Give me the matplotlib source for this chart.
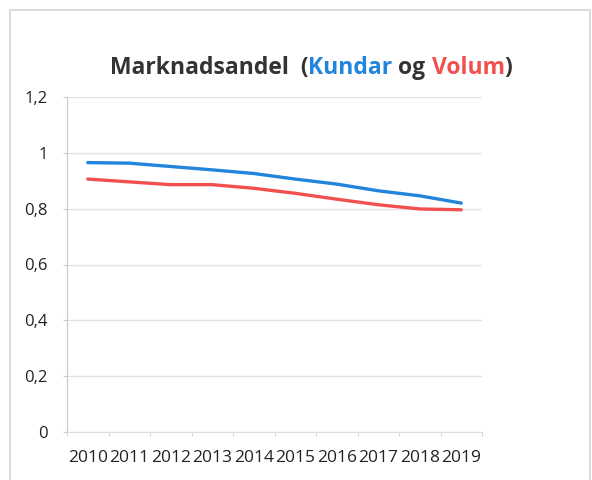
import numpy as np
import matplotlib
matplotlib.use("Agg")
import matplotlib.pyplot as plt
from matplotlib.patches import Rectangle

years = ["2010", "2011", "2012", "2013", "2014", "2015", "2016", "2017", "2018", "2019"]
kundar = [0.965, 0.963, 0.951, 0.939, 0.926, 0.906, 0.888, 0.864, 0.846, 0.820]
volum = [0.906, 0.896, 0.886, 0.886, 0.873, 0.855, 0.834, 0.814, 0.799, 0.796]
yticks = [0, 0.2, 0.4, 0.6, 0.8, 1.0, 1.2]
ytick_labels = ["0", "0,2", "0,4", "0,6", "0,8", "1", "1,2"]

blue = "#2185DB"
red = "#F2504F"

plt.rcParams['font.family'] = ['Open Sans', 'DejaVu Sans']

fig = plt.figure(figsize=(5.92, 4.80), dpi=100)
fig.patches.append(Rectangle((10/592, -0.02), 580/592, 1 - 10/480 + 0.02, transform=fig.transFigure,
                             fill=False, edgecolor="#d4d4d4", linewidth=1.2))

ax = fig.add_axes([67/592, 48/480, 415/592, 335/480])
x = np.arange(len(years))
ax.plot(x, kundar, color=blue, linewidth=2.4, solid_capstyle='round', solid_joinstyle='round')
ax.plot(x, volum, color=red, linewidth=2.4, solid_capstyle='round', solid_joinstyle='round')

ax.set_xlim(-0.5, 9.5)
ax.set_ylim(0, 1.2)
ax.set_yticks(yticks)
ax.set_yticklabels(ytick_labels)
ax.set_xticks(x)
ax.set_xticklabels(years)
ax.set_xticks(np.arange(-0.5, 10, 1), minor=True)
ax.tick_params(axis='x', which='major', length=0, pad=13, labelsize=12.5, colors="#222222")
ax.tick_params(axis='x', which='minor', length=3, color="#cccccc")
ax.tick_params(axis='y', length=3, color="#cccccc", pad=11, labelsize=12, colors="#222222")

ax.grid(axis='y', color="#e4e4e4", linewidth=1)
for s in ['top', 'right']:
    ax.spines[s].set_visible(False)
ax.spines['left'].set_color("#c8c8c8")
ax.spines['left'].set_linestyle((0, (3, 1)))
ax.spines['bottom'].set_color("#dddddd")

# two-coloured title
parts = [("Marknadsandel  (", "#333333"), ("Kundar", blue), (" og ", "#333333"),
         ("Volum", red), (")", "#333333")]
renderer = fig.canvas.get_renderer()
texts = []
xpos = 0
for s, c in parts:
    t = fig.text(xpos, 1 - 68/480, s, color=c, fontsize=16.5, fontweight='bold',
                 va='center', ha='left')
    texts.append(t)
    bb = t.get_window_extent(renderer)
    xpos += bb.width / fig.bbox.width
start = 311/592 - xpos / 2
xpos = start
for t in texts:
    t.set_x(xpos)
    xpos += t.get_window_extent(renderer).width / fig.bbox.width

fig.savefig("out.png", dpi=100)
